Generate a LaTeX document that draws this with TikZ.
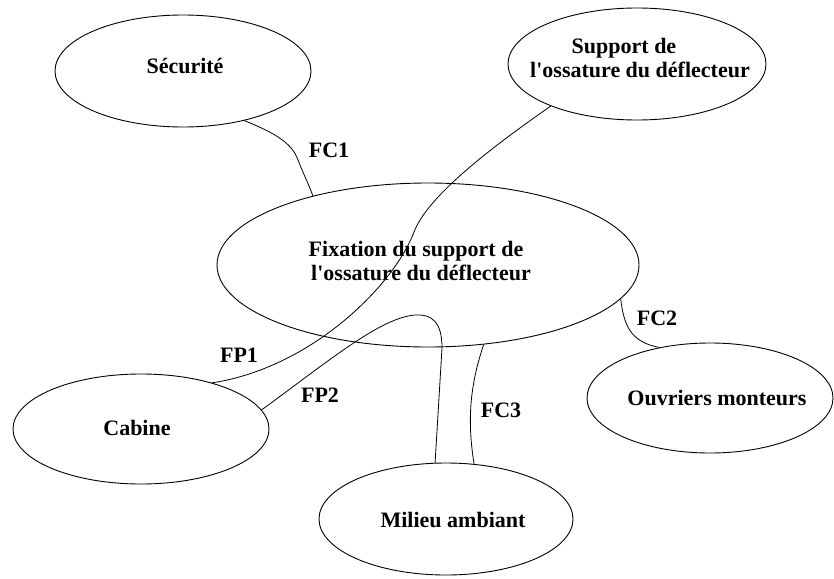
\documentclass[tikz,border=0pt]{standalone}
\usepackage{fontspec}
\setmainfont{Liberation Serif}[Ligatures=TeXOff]
\usetikzlibrary{shapes.geometric}
\tikzset{
  ell/.style={draw, ellipse, inner sep=0pt, line width=0.9pt},
  txt/.style={anchor=base, inner sep=0pt, font=\fontsize{22}{24}\selectfont\bfseries},
  conn/.style={line width=0.8pt}
}
\begin{document}
\begin{tikzpicture}[x=1pt,y=1pt]
\useasboundingbox (0,0) rectangle (834,-578);
% ellipses
\node[ell, minimum width=256pt, minimum height=112pt] (sec) at (183,-71) {};
\node[ell, minimum width=258pt, minimum height=112pt] (sup) at (637,-64) {};
\node[ell, minimum width=422pt, minimum height=164pt] (cen) at (428,-265) {};
\node[ell, minimum width=256pt, minimum height=110pt] (cab) at (141,-429) {};
\node[ell, minimum width=254pt, minimum height=112pt] (mil) at (446,-519) {};
\node[ell, minimum width=246pt, minimum height=110pt] (ouv) at (710,-398) {};
% texts
\node[txt] (secT) at (185,-74) {Sécurité};
\node[txt] (supT1) at (624,-53) {Support de};
\node[txt] (supT2) at (640,-77) {l'ossature du déflecteur};
\node[txt] (cenT1) at (416,-256) {Fixation du support de};
\node[txt] (cenT2) at (421,-280) {l'ossature du déflecteur};
\node[txt] (cabT) at (137,-435) {Cabine};
\node[txt] (milT) at (453,-527) {Milieu ambiant};
\node[txt] (ouvT) at (717,-405) {Ouvriers monteurs};
% connector labels
\node[txt] (fc1) at (329,-157) {FC1};
\node[txt] (fp1) at (239,-362) {FP1};
\node[txt] (fp2) at (320,-402) {FP2};
\node[txt] (fc3) at (501,-417) {FC3};
\node[txt] (fc2) at (657,-325) {FC2};
% connectors
\draw[conn] (sec.-39) .. controls (275,-133) and (292,-143) .. (298,-160)
  .. controls (303,-173) and (309,-185) .. (cen.149);
\draw[conn] (sup.-154) .. controls (495,-145) and (428,-195) .. (414,-232)
  .. controls (393,-287) and (310,-368) .. (cab.33);
\draw[conn] (cab.9) .. controls (330,-360) and (380,-318) .. (415,-315)
  .. controls (432,-314) and (442,-322) .. (442,-348) -- (mil.101);
\draw[conn] (cen.-55) .. controls (470,-385) and (467,-420) .. (mil.63);
\draw[conn] (cen.-10) .. controls (624,-325) and (630,-342) .. (ouv.135);
\end{tikzpicture}
\end{document}
